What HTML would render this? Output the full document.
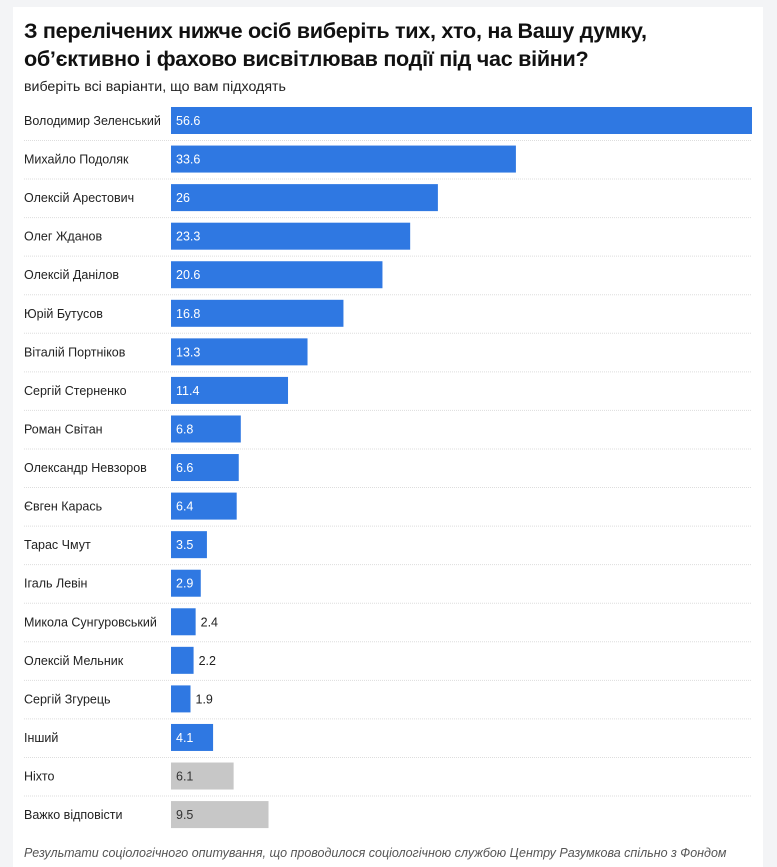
<!DOCTYPE html>
<html><head><meta charset="utf-8"><style>
body{margin:0;background:#f3f4f6;width:777px;height:855px;overflow:hidden;font-family:"Liberation Sans",sans-serif;}
#card{position:absolute;left:13px;top:7px;width:750px;height:860px;background:#fff;}
h1{position:absolute;left:11px;top:10px;margin:0;font-size:21.6px;line-height:28px;font-weight:bold;color:#111;width:730px;letter-spacing:-0.3px}
#sub{position:absolute;left:11px;top:72px;font-size:14.2px;color:#222}
#foot{position:absolute;left:11px;top:839px;font-size:12.5px;font-style:italic;color:#555;white-space:nowrap}
</style></head><body>
<div id="card">
<h1>З перелічених нижче осіб виберіть тих, хто, на Вашу думку, об’єктивно і фахово висвітлював події під час війни?</h1>
<div id="sub">виберіть всі варіанти, що вам підходять</div>
<svg id="chart" style="position:absolute;left:0;top:0" width="750" height="830"></svg>
<div id="foot">Результати соціологічного опитування, що проводилося соціологічною службою Центру Разумкова спільно з Фондом</div>
</div>
<script>
const categories=["Володимир Зеленський","Михайло Подоляк","Олексій Арестович","Олег Жданов","Олексій Данілов","Юрій Бутусов","Віталій Портніков","Сергій Стерненко","Роман Світан","Олександр Невзоров","Євген Карась","Тарас Чмут","Ігаль Левін","Микола Сунгуровський","Олексій Мельник","Сергій Згурець","Інший","Ніхто","Важко відповісти"];
const values=[56.6,33.6,26,23.3,20.6,16.8,13.3,11.4,6.8,6.6,6.4,3.5,2.9,2.4,2.2,1.9,4.1,6.1,9.5];
const grayCats=["Ніхто","Важко відповісти"];
const svg=document.getElementById('chart');
const NS='http://www.w3.org/2000/svg';
const x0=158,maxW=581,maxV=56.6;
function xs(v){return v/maxV*maxW;}
function ys(i){return 100+i*38.56;}
categories.forEach((c,i)=>{
  const y=ys(i);
  const t=document.createElementNS(NS,'text');
  
  
  t.setAttribute('x',11);t.setAttribute('y',y+18);t.setAttribute('font-size','12.5');t.setAttribute('fill','#222');
  t.textContent=c;svg.appendChild(t);
  const w=xs(values[i]);
  const r=document.createElementNS(NS,'rect');
  
  
  r.setAttribute('x',x0);r.setAttribute('y',y);r.setAttribute('width',w);r.setAttribute('height',27);
  r.setAttribute('fill',grayCats.includes(c)?'#c7c7c7':'#2f78e2');svg.appendChild(r);
  const inside=w>28;
  const v=document.createElementNS(NS,'text');
  
  
  v.setAttribute('x',inside?x0+5:x0+w+5);v.setAttribute('y',y+18);v.setAttribute('font-size','12.5');
  v.setAttribute('fill',grayCats.includes(c)?'#333':(inside?'#fff':'#222'));
  v.textContent=values[i];svg.appendChild(v);
  if(i<categories.length-1){
    const l=document.createElementNS(NS,'line');
    
    
    l.setAttribute('x1',11);l.setAttribute('x2',739);l.setAttribute('y1',y+33.5);l.setAttribute('y2',y+33.5);
    l.setAttribute('stroke','#ddd');l.setAttribute('stroke-dasharray','1 1');svg.appendChild(l);
  }
});
</script>
</body></html>
